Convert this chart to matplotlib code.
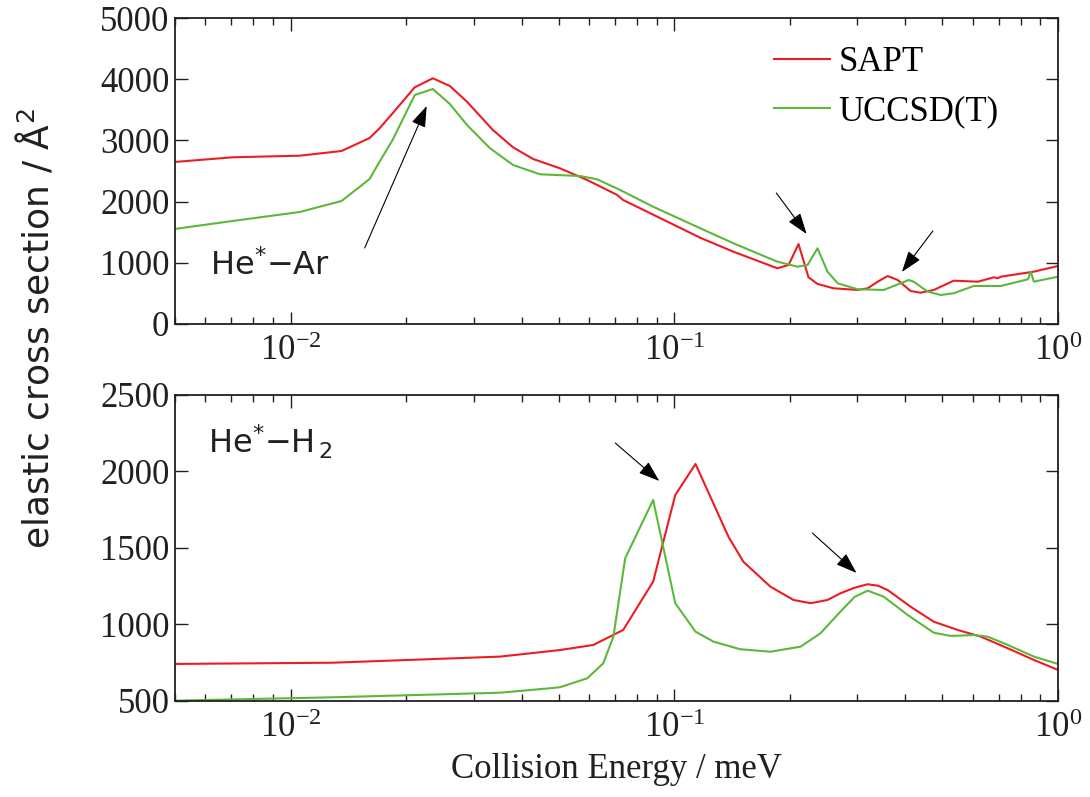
import numpy as np
import matplotlib
matplotlib.use('Agg')
import matplotlib.pyplot as plt
from matplotlib.ticker import LogLocator, NullFormatter, FixedLocator

plt.rcParams['font.family'] = ['Liberation Serif', 'DejaVu Serif']
plt.rcParams['mathtext.fontset'] = 'custom'
plt.rcParams['mathtext.rm'] = 'Liberation Serif'
plt.rcParams['mathtext.it'] = 'Liberation Serif:italic'

# He*-Ar
e_ar_sapt = [0.00498, 0.00706, 0.01057, 0.01358, 0.01607, 0.01706, 0.01845, 0.02107, 0.02349,
             0.02601, 0.02883, 0.03367, 0.03801, 0.04287, 0.05036, 0.05929, 0.07103,
             0.07357, 0.08496, 0.1169, 0.1426, 0.1857, 0.1986, 0.2108, 0.2238, 0.2363,
             0.2600, 0.3006, 0.3192, 0.3390, 0.3600, 0.3822, 0.4130, 0.4386, 0.4747,
             0.5351, 0.6183, 0.6806, 0.6970, 0.7096, 0.8654, 1.0]
s_ar_sapt = [2647, 2724, 2750, 2827, 3039, 3198, 3443, 3868, 4015,
             3889, 3632, 3170, 2887, 2696, 2544, 2353, 2108,
             2026, 1835, 1409, 1181, 910, 964, 1307, 763, 654,
             583, 556, 583, 691, 784, 719, 539, 511, 556,
             708, 691, 763, 747, 773, 855, 948]
e_ar_ucc = [0.00498, 0.00706, 0.01057, 0.01358, 0.01607, 0.01706, 0.01845, 0.02107, 0.02349,
            0.02601, 0.02883, 0.03311, 0.03801, 0.04470, 0.05685, 0.06295, 0.07226,
            0.08805, 0.1169, 0.1426, 0.1857, 0.2096, 0.2225, 0.2363, 0.2508, 0.2666,
            0.3006, 0.3513, 0.3890, 0.4083, 0.4207, 0.4576, 0.4951, 0.5351, 0.6033,
            0.7096, 0.8351, 0.8497, 0.8654, 1.0]
s_ar_ucc = [1552, 1683, 1830, 2010, 2369, 2652, 3007, 3742, 3840,
            3595, 3252, 2871, 2598, 2446, 2418, 2364, 2190,
            1917, 1564, 1319, 1018, 936, 964, 1237, 855, 665,
            567, 556, 665, 719, 691, 528, 474, 502, 621,
            621, 730, 855, 691, 773]

# He*-H2
e_h2_sapt = [0.00498, 0.01288, 0.0352, 0.0504, 0.0615, 0.0736, 0.0881, 0.1006, 0.1136,
             0.1242, 0.1384, 0.1514, 0.1781, 0.2046, 0.2266, 0.2508, 0.2711, 0.2950,
             0.3192, 0.3400, 0.3600, 0.4130, 0.4747, 0.5483, 0.6299, 0.7405, 0.8654, 1.0]
s_h2_sapt = [742, 750, 790, 833, 866, 964, 1280, 1846, 2049,
             1835, 1574, 1410, 1247, 1160, 1139, 1160, 1204, 1240,
             1263, 1253, 1225, 1116, 1018, 964, 920, 844, 768, 703]
e_h2_ucc = [0.00498, 0.01288, 0.0352, 0.0474, 0.0504, 0.0593, 0.0653, 0.0694, 0.0745,
            0.0881, 0.1006, 0.1136, 0.1265, 0.1486, 0.1781, 0.2134, 0.2404, 0.2711,
            0.2950, 0.3192, 0.3513, 0.4058, 0.4747, 0.5258, 0.6033, 0.6563, 0.7405,
            0.8654, 1.0]
s_h2_ucc = [502, 524, 554, 583, 590, 648, 746, 920, 1433,
            1814, 1139, 953, 888, 838, 822, 855, 942, 1084,
            1180, 1221, 1182, 1062, 946, 925, 931, 920, 866,
            790, 742]

red = '#ec1c24'
green = '#5cb83a'
ink = '#231f20'

fig = plt.figure(figsize=(10.9, 7.97), dpi=100)
ax1 = fig.add_axes([0.1606, 0.5935, 0.81, 0.3839])
ax2 = fig.add_axes([0.1606, 0.1205, 0.81, 0.3839])

ax1.plot(e_ar_sapt, s_ar_sapt, color=red, lw=1.5, label='SAPT')
ax1.plot(e_ar_ucc, s_ar_ucc, color=green, lw=1.5, label='UCCSD(T)')
ax2.plot(e_h2_sapt, s_h2_sapt, color=red, lw=1.5)
ax2.plot(e_h2_ucc, s_h2_ucc, color=green, lw=1.5)

ax1.set_ylim(0, 5000)
ax1.yaxis.set_major_locator(FixedLocator([0, 1000, 2000, 3000, 4000, 5000]))
ax2.set_ylim(500, 2500)
ax2.yaxis.set_major_locator(FixedLocator([500, 1000, 1500, 2000, 2500]))

for ax in (ax1, ax2):
    ax.set_xscale('log')
    ax.set_xlim(0.005, 1)
    ax.xaxis.set_major_locator(LogLocator(base=10))
    ax.xaxis.set_minor_locator(LogLocator(base=10, subs=np.arange(2, 10)))
    ax.xaxis.set_minor_formatter(NullFormatter())
    ax.tick_params(which='both', direction='in', top=True, right=True,
                   colors=ink, labelcolor=ink, labelsize=25, width=1.0)
    ax.tick_params(which='major', length=9)
    ax.tick_params(which='minor', length=5)
    ax.tick_params(axis='x', pad=8)
    ax.tick_params(axis='y', pad=4)
    for s in ax.spines.values():
        s.set_linewidth(1.3)
        s.set_color(ink)

leg = ax1.legend(loc='upper left', bbox_to_anchor=(0.643, 1.01), frameon=False,
                 fontsize=25, handlelength=1.6, handletextpad=0.25, labelspacing=0.45)

arrow = dict(arrowstyle='-|>,head_length=1.3,head_width=0.45', color='black', lw=0.8,
             shrinkA=0, shrinkB=0)
ax1.annotate('', xy=(0.02264, 3562), xytext=(0.01560, 1242), arrowprops=arrow)
ax1.annotate('', xy=(0.2213, 1471), xytext=(0.1845, 2141), arrowprops=arrow)
ax1.annotate('', xy=(0.392, 850), xytext=(0.472, 1520), arrowprops=arrow)
ax2.annotate('', xy=(0.0914, 1938), xytext=(0.0702, 2186), arrowprops=arrow)
ax2.annotate('', xy=(0.2985, 1337), xytext=(0.229, 1598), arrowprops=arrow)

ax1.text(0.00615, 948, r'He$^{*}$$-$Ar', family='DejaVu Sans', fontsize=23,
         va='center', ha='left', color=ink,
         math_fontfamily='dejavusans')
ax2.text(0.00609, 2193, r'He$^{*}$$-$H$_{\,2}$', family='DejaVu Sans', fontsize=23,
         va='center', ha='left', color=ink,
         math_fontfamily='dejavusans')

fig.text(0.032, 0.588, 'elastic cross section / Å$^{2}$', rotation=90,
         family='DejaVu Sans', fontsize=26, va='center', ha='center', color=ink,
         math_fontfamily='dejavusans')
ax2.set_xlabel('Collision Energy / meV', fontsize=25, color=ink, labelpad=6)

fig.savefig('out.png', dpi=100)
